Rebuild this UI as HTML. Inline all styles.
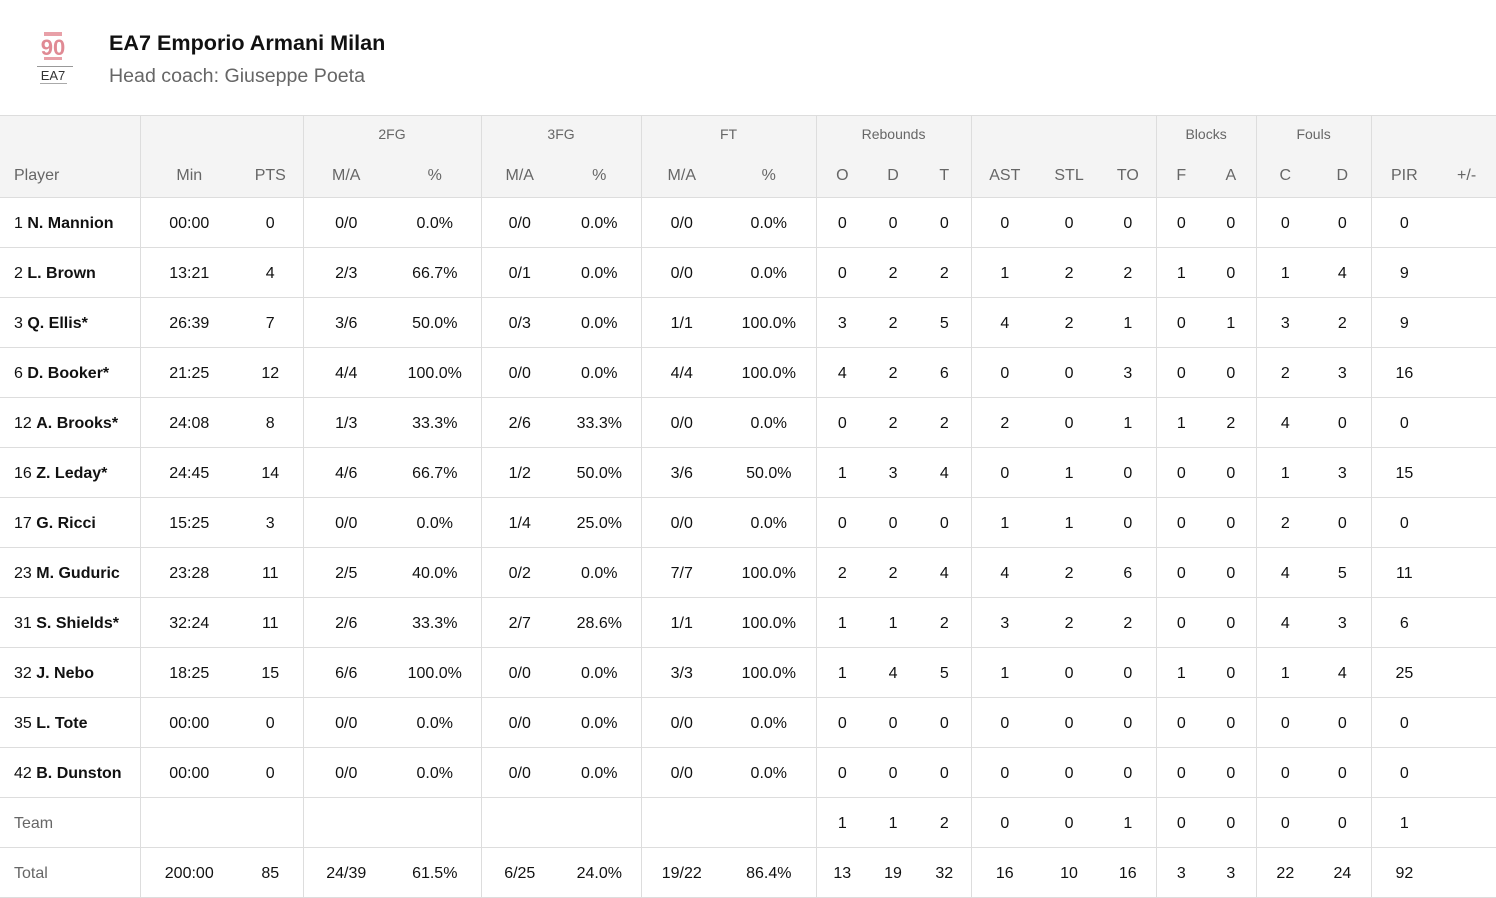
<!DOCTYPE html>
<html><head><meta charset="utf-8"><style>
body{margin:0;width:1496px;height:885px;overflow:hidden;background:#fff;font-family:"Liberation Sans",sans-serif;position:relative}
.logo{position:absolute;left:35px;top:28px;width:40px;height:58px}
.t1{position:absolute;left:109px;top:30px;font-size:21.6px;font-weight:bold;color:#111}
.t2{position:absolute;left:109px;top:65px;font-size:19.6px;color:#666}
table{position:absolute;left:0;top:115px;border-collapse:collapse;table-layout:fixed;width:1496px}
td,th{padding:0;text-align:center;font-size:16px;color:#111;white-space:nowrap}
thead th{background:#f4f4f4;color:#666;font-weight:normal}
thead tr.g th{height:34px;font-size:14px;vertical-align:top;padding-top:10px;box-sizing:border-box;border-top:1px solid #ddd}
thead tr.s th{height:42px;border-bottom:1px solid #ddd;padding-top:5px}
tbody td{height:45px;border-bottom:1px solid #ddd;padding-top:4px}
.b{border-left:1px solid #ddd}
td.p,th.p{text-align:left;padding-left:14px}
td.p b{font-weight:bold}
.gr{color:#666}
</style></head><body>
<svg class="logo" viewBox="0 0 40 58"><rect x="9" y="4" width="18" height="4" fill="#e8a0a8"/><text x="18" y="27" font-family="Liberation Sans" font-weight="bold" font-size="22" fill="#e08a94" text-anchor="middle">90</text><rect x="9" y="29" width="18" height="3" fill="#e8a0a8"/><rect x="2" y="38" width="36" height="1" fill="#999"/><text x="18" y="52" font-family="Liberation Sans" font-size="13" fill="#333" text-anchor="middle">EA7</text><rect x="5" y="55" width="27" height="1" fill="#aaa"/></svg>
<div class="t1">EA7 Emporio Armani Milan</div>
<div class="t2">Head coach: Giuseppe Poeta</div>
<table>
<colgroup><col style="width:140px"><col style="width:98px"><col style="width:65px"><col style="width:86px"><col style="width:92px"><col style="width:77px"><col style="width:83px"><col style="width:81px"><col style="width:94px"><col style="width:52px"><col style="width:50px"><col style="width:53px"><col style="width:67px"><col style="width:62px"><col style="width:56px"><col style="width:50px"><col style="width:50px"><col style="width:58px"><col style="width:57px"><col style="width:66px"><col style="width:59px"></colgroup>
<thead>
<tr class="g"><th></th><th class="b" colspan="2"></th><th class="b" colspan="2">2FG</th><th class="b" colspan="2">3FG</th><th class="b" colspan="2">FT</th><th class="b" colspan="3">Rebounds</th><th class="b" colspan="3"></th><th class="b" colspan="2">Blocks</th><th class="b" colspan="2">Fouls</th><th class="b" colspan="2"></th></tr>
<tr class="s"><th class="p">Player</th><th class="b">Min</th><th>PTS</th><th class="b">M/A</th><th>%</th><th class="b">M/A</th><th>%</th><th class="b">M/A</th><th>%</th><th class="b">O</th><th>D</th><th>T</th><th class="b">AST</th><th>STL</th><th>TO</th><th class="b">F</th><th>A</th><th class="b">C</th><th>D</th><th class="b">PIR</th><th>+/-</th></tr>
</thead>
<tbody>
<tr><td class="p">1 <b>N. Mannion</b></td><td class="b">00:00</td><td>0</td><td class="b">0/0</td><td>0.0%</td><td class="b">0/0</td><td>0.0%</td><td class="b">0/0</td><td>0.0%</td><td class="b">0</td><td>0</td><td>0</td><td class="b">0</td><td>0</td><td>0</td><td class="b">0</td><td>0</td><td class="b">0</td><td>0</td><td class="b">0</td><td></td></tr>
<tr><td class="p">2 <b>L. Brown</b></td><td class="b">13:21</td><td>4</td><td class="b">2/3</td><td>66.7%</td><td class="b">0/1</td><td>0.0%</td><td class="b">0/0</td><td>0.0%</td><td class="b">0</td><td>2</td><td>2</td><td class="b">1</td><td>2</td><td>2</td><td class="b">1</td><td>0</td><td class="b">1</td><td>4</td><td class="b">9</td><td></td></tr>
<tr><td class="p">3 <b>Q. Ellis*</b></td><td class="b">26:39</td><td>7</td><td class="b">3/6</td><td>50.0%</td><td class="b">0/3</td><td>0.0%</td><td class="b">1/1</td><td>100.0%</td><td class="b">3</td><td>2</td><td>5</td><td class="b">4</td><td>2</td><td>1</td><td class="b">0</td><td>1</td><td class="b">3</td><td>2</td><td class="b">9</td><td></td></tr>
<tr><td class="p">6 <b>D. Booker*</b></td><td class="b">21:25</td><td>12</td><td class="b">4/4</td><td>100.0%</td><td class="b">0/0</td><td>0.0%</td><td class="b">4/4</td><td>100.0%</td><td class="b">4</td><td>2</td><td>6</td><td class="b">0</td><td>0</td><td>3</td><td class="b">0</td><td>0</td><td class="b">2</td><td>3</td><td class="b">16</td><td></td></tr>
<tr><td class="p">12 <b>A. Brooks*</b></td><td class="b">24:08</td><td>8</td><td class="b">1/3</td><td>33.3%</td><td class="b">2/6</td><td>33.3%</td><td class="b">0/0</td><td>0.0%</td><td class="b">0</td><td>2</td><td>2</td><td class="b">2</td><td>0</td><td>1</td><td class="b">1</td><td>2</td><td class="b">4</td><td>0</td><td class="b">0</td><td></td></tr>
<tr><td class="p">16 <b>Z. Leday*</b></td><td class="b">24:45</td><td>14</td><td class="b">4/6</td><td>66.7%</td><td class="b">1/2</td><td>50.0%</td><td class="b">3/6</td><td>50.0%</td><td class="b">1</td><td>3</td><td>4</td><td class="b">0</td><td>1</td><td>0</td><td class="b">0</td><td>0</td><td class="b">1</td><td>3</td><td class="b">15</td><td></td></tr>
<tr><td class="p">17 <b>G. Ricci</b></td><td class="b">15:25</td><td>3</td><td class="b">0/0</td><td>0.0%</td><td class="b">1/4</td><td>25.0%</td><td class="b">0/0</td><td>0.0%</td><td class="b">0</td><td>0</td><td>0</td><td class="b">1</td><td>1</td><td>0</td><td class="b">0</td><td>0</td><td class="b">2</td><td>0</td><td class="b">0</td><td></td></tr>
<tr><td class="p">23 <b>M. Guduric</b></td><td class="b">23:28</td><td>11</td><td class="b">2/5</td><td>40.0%</td><td class="b">0/2</td><td>0.0%</td><td class="b">7/7</td><td>100.0%</td><td class="b">2</td><td>2</td><td>4</td><td class="b">4</td><td>2</td><td>6</td><td class="b">0</td><td>0</td><td class="b">4</td><td>5</td><td class="b">11</td><td></td></tr>
<tr><td class="p">31 <b>S. Shields*</b></td><td class="b">32:24</td><td>11</td><td class="b">2/6</td><td>33.3%</td><td class="b">2/7</td><td>28.6%</td><td class="b">1/1</td><td>100.0%</td><td class="b">1</td><td>1</td><td>2</td><td class="b">3</td><td>2</td><td>2</td><td class="b">0</td><td>0</td><td class="b">4</td><td>3</td><td class="b">6</td><td></td></tr>
<tr><td class="p">32 <b>J. Nebo</b></td><td class="b">18:25</td><td>15</td><td class="b">6/6</td><td>100.0%</td><td class="b">0/0</td><td>0.0%</td><td class="b">3/3</td><td>100.0%</td><td class="b">1</td><td>4</td><td>5</td><td class="b">1</td><td>0</td><td>0</td><td class="b">1</td><td>0</td><td class="b">1</td><td>4</td><td class="b">25</td><td></td></tr>
<tr><td class="p">35 <b>L. Tote</b></td><td class="b">00:00</td><td>0</td><td class="b">0/0</td><td>0.0%</td><td class="b">0/0</td><td>0.0%</td><td class="b">0/0</td><td>0.0%</td><td class="b">0</td><td>0</td><td>0</td><td class="b">0</td><td>0</td><td>0</td><td class="b">0</td><td>0</td><td class="b">0</td><td>0</td><td class="b">0</td><td></td></tr>
<tr><td class="p">42 <b>B. Dunston</b></td><td class="b">00:00</td><td>0</td><td class="b">0/0</td><td>0.0%</td><td class="b">0/0</td><td>0.0%</td><td class="b">0/0</td><td>0.0%</td><td class="b">0</td><td>0</td><td>0</td><td class="b">0</td><td>0</td><td>0</td><td class="b">0</td><td>0</td><td class="b">0</td><td>0</td><td class="b">0</td><td></td></tr>
<tr><td class="p gr">Team</td><td class="b"></td><td></td><td class="b"></td><td></td><td class="b"></td><td></td><td class="b"></td><td></td><td class="b">1</td><td>1</td><td>2</td><td class="b">0</td><td>0</td><td>1</td><td class="b">0</td><td>0</td><td class="b">0</td><td>0</td><td class="b">1</td><td></td></tr>
<tr><td class="p gr">Total</td><td class="b">200:00</td><td>85</td><td class="b">24/39</td><td>61.5%</td><td class="b">6/25</td><td>24.0%</td><td class="b">19/22</td><td>86.4%</td><td class="b">13</td><td>19</td><td>32</td><td class="b">16</td><td>10</td><td>16</td><td class="b">3</td><td>3</td><td class="b">22</td><td>24</td><td class="b">92</td><td></td></tr>
</tbody></table>
</body></html>
